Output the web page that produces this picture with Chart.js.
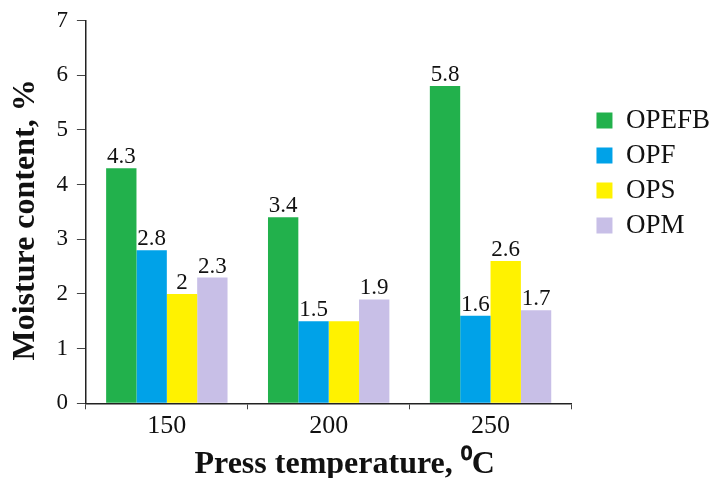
<!DOCTYPE html>
<html lang="en">
<head>
    <meta charset="UTF-8">
    <title>Moisture content vs press temperature</title>
    <script src="https://cdn.jsdelivr.net/npm/chart.js"></script>
    <style>
        body {
            margin: 0;
            padding: 0;
            background: #fff;
        }
        .container {
            width: 712px;
            height: 478px;
        }
    </style>
</head>
<body>
    <div class="container">
        <canvas id="moistureChart" width="712" height="478"></canvas>
    </div>
    <script>
        // datos
        const temperaturas = ['150', '200', '250'];
        const opefb = [4.3, 3.4, 5.8];
        const opf = [2.8, 1.5, 1.6];
        const ops = [2.0, 1.5, 2.6];
        const opm = [2.3, 1.9, 1.7];
        // etiquetas sobre las barras (OPS a 200 no lleva etiqueta)
        const etiquetasOpefb = ['4.3', '3.4', '5.8'];
        const etiquetasOpf = ['2.8', '1.5', '1.6'];
        const etiquetasOps = ['2', null, '2.6'];
        const etiquetasOpm = ['2.3', '1.9', '1.7'];
        const yTicks = [0, 1, 2, 3, 4, 5, 6, 7];

        const serif = "'Liberation Serif', 'Times New Roman', serif";

        // dibuja los valores encima de cada barra
        const valoresPlugin = {
            id: 'valores',
            afterDatasetsDraw(chart) {
                const ctx = chart.ctx;
                ctx.save();
                ctx.font = '23px ' + serif;
                ctx.fillStyle = '#111';
                ctx.textAlign = 'center';
                ctx.textBaseline = 'alphabetic';
                chart.data.datasets.forEach((ds, i) => {
                    const meta = chart.getDatasetMeta(i);
                    meta.data.forEach((bar, j) => {
                        const txt = ds.etiquetas[j];
                        if (txt) ctx.fillText(txt, bar.x, bar.y - 5);
                    });
                });
                ctx.restore();
            }
        };

        const ctx = document.getElementById('moistureChart').getContext('2d');
        new Chart(ctx, {
            type: 'bar',
            data: {
                labels: temperaturas,
                datasets: [
                    { label: 'OPEFB', data: opefb, etiquetas: etiquetasOpefb, backgroundColor: '#22B14C' },
                    { label: 'OPF', data: opf, etiquetas: etiquetasOpf, backgroundColor: '#00A2E8' },
                    { label: 'OPS', data: ops, etiquetas: etiquetasOps, backgroundColor: '#FFF200' },
                    { label: 'OPM', data: opm, etiquetas: etiquetasOpm, backgroundColor: '#C8BFE7' }
                ]
            },
            options: {
                responsive: false,
                animation: false,
                categoryPercentage: 0.75,
                barPercentage: 1.0,
                layout: {
                    padding: { top: 20, left: 7, right: -8, bottom: -3 }
                },
                plugins: {
                    tooltip: { enabled: false },
                    legend: {
                        position: 'right',
                        align: 'start',
                        title: {
                            display: true,
                            text: ' ',
                            font: { size: 10 },
                            padding: { top: 67, bottom: 0 }
                        },
                        labels: {
                            color: '#111',
                            boxWidth: 16,
                            boxHeight: 16,
                            padding: 8,
                            font: { family: serif, size: 27 }
                        }
                    }
                },
                scales: {
                    x: {
                        border: { color: '#222', width: 1.5 },
                        grid: {
                            drawOnChartArea: false,
                            drawTicks: true,
                            tickLength: 6,
                            color: '#444'
                        },
                        ticks: {
                            color: '#111',
                            padding: 1,
                            font: { family: serif, size: 26 }
                        },
                        title: {
                            display: true,
                            text: '    Press temperature, \u2070C',
                            color: '#111',
                            padding: { top: 6.5, bottom: 0 },
                            font: { family: serif, size: 32, weight: 'bold', lineHeight: 1.0 }
                        }
                    },
                    y: {
                        min: 0,
                        max: 7,
                        afterBuildTicks(scale) {
                            scale.ticks = yTicks.map(v => ({ value: v }));
                        },
                        border: { color: '#222', width: 1.5 },
                        grid: {
                            drawOnChartArea: false,
                            drawTicks: true,
                            tickLength: 9,
                            color: '#444'
                        },
                        ticks: {
                            color: '#111',
                            padding: 9,
                            font: { family: serif, size: 23, lineHeight: 1.0 }
                        },
                        title: {
                            display: true,
                            text: 'Moisture content, %  ',
                            color: '#111',
                            padding: { top: 0, bottom: 2 },
                            font: { family: serif, size: 32, weight: 'bold' }
                        }
                    },
                    // eje oculto que deja hueco entre las barras y la leyenda
                    hueco: {
                        type: 'linear',
                        position: 'right',
                        display: false,
                        afterFit(scale) {
                            scale.width = 17;
                        }
                    }
                }
            },
            plugins: [valoresPlugin]
        });
    </script>
</body>
</html>
